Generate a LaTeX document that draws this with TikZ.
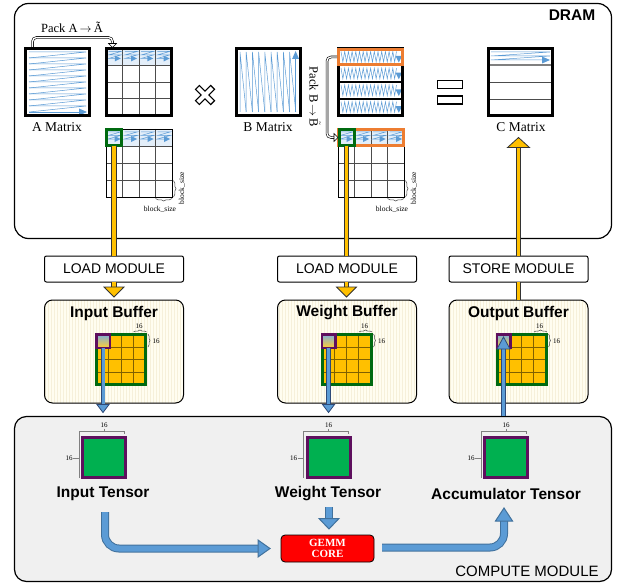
\documentclass[tikz,border=0pt]{standalone}
\usepackage{fontspec}
\setmainfont{Liberation Serif}
\newfontfamily\sansf{Liberation Sans}
\usetikzlibrary{arrows.meta,decorations.pathreplacing,calc,patterns}
\definecolor{zigc}{HTML}{5B9BD5}
\definecolor{paleblue}{HTML}{E3EEF9}
\definecolor{ycol}{HTML}{FFC000}
\definecolor{gbord}{HTML}{006A10}
\definecolor{orng}{HTML}{ED7D31}
\definecolor{purp}{HTML}{5E0F5E}
\definecolor{tgreen}{HTML}{00B050}
\definecolor{gridl}{HTML}{7F6000}
\definecolor{bfill}{HTML}{5B9BD5}
\definecolor{bdark}{HTML}{41719C}
\definecolor{bdk2}{HTML}{2E4A78}
\definecolor{cream}{HTML}{FFFDF0}
\definecolor{stripe}{HTML}{F6F0DA}
\definecolor{cmpfill}{HTML}{F0F0F0}
\newcommand{\cellpat}[4]{%
  \draw[zig] ({#1+2},{#2+3}) -- ({#1+#3-2},{#2+3}) -- ({#1+2},{#2+6.5}) -- ({#1+#3-2},{#2+6.5}) -- ({#1+2},{#2+10}) -- ({#1+#3-7},{#2+10});
  \fill[zigc] ({#1+#3-8},{#2+7}) -- ({#1+#3-2},{#2+10}) -- ({#1+#3-8},{#2+13}) -- cycle;}
\begin{document}
\begin{tikzpicture}[x=1pt,y=-1pt,
  every node/.style={inner sep=0pt, outer sep=0pt},
  zig/.style={draw=zigc, line width=0.5pt},
  thickmat/.style={draw=black, line width=3pt, minimum width=64pt, minimum height=67pt},
  thinmat/.style={draw=black, line width=0.9pt, minimum width=66pt, minimum height=68pt},
  gridln/.style={draw=black!70, line width=0.8pt},
  mlabel/.style={font=\fontsize{13.5}{13.5}\selectfont},
  modbox/.style={draw=black, line width=1pt, rounded corners=2pt, fill=white, minimum width=139pt, minimum height=26pt, font=\sansf\fontsize{14}{14}\selectfont},
  bufbox/.style={fill=cream, minimum width=139pt, minimum height=103pt, rounded corners=8pt, postaction={pattern=vertical lines, pattern color=stripe}, postaction={draw=black, line width=1pt}},
  btitle/.style={font=\sansf\bfseries\fontsize{15.5}{15.5}\selectfont},
  grid16/.style={draw=gbord, line width=3pt, fill=ycol, minimum width=49pt, minimum height=50pt},
  purpsq/.style={draw=purp, line width=2.5pt, minimum size=13.5pt, top color=zigc!80, bottom color=ycol!80},
  tensor/.style={draw=purp, line width=3pt, fill=tgreen, minimum width=43pt, minimum height=40pt},
  dimln/.style={draw=gray, line width=0.7pt},
  dimtxt/.style={font=\fontsize{7}{7}\selectfont},
  bsz/.style={font=\fontsize{7.5}{7.5}\selectfont},
  brc/.style={draw=black!70, line width=0.5pt, decorate, decoration={brace, amplitude=2.5pt}},
  ylink/.style={draw=black!80, double=ycol, double distance=3.6pt, line width=0.8pt},
  yhead/.style={fill=ycol, draw=black!80, line width=0.8pt},
  bthin/.style={draw=bdk2, double=bfill, double distance=3pt, line width=0.8pt},
  bhead/.style={fill=bfill, draw=bdk2, line width=0.8pt},
  bbig/.style={draw=bdark, double=bfill, double distance=6pt, line width=1pt},
  bbhead/.style={fill=bfill, draw=bdark, line width=1pt},
  packln/.style={draw=black, double=white, double distance=1.3pt, line width=0.6pt, rounded corners=4pt},
]
\useasboundingbox (0,0) rectangle (618,583);
\fill[white] (0,0) rectangle (618,583);

% ---------------- DRAM ----------------
\node[draw, line width=1.2pt, rounded corners=14pt, minimum width=597pt, minimum height=235pt] (dram) at (313,121) {};
\node[font=\sansf\bfseries\fontsize{15.5}{15.5}\selectfont] (dramlab) at (572,15) {DRAM};

% A matrix
\foreach \i in {0,...,9}{\draw[zig] (29,{52+6*\i}) -- (86,{52+6*\i}) -- (29,{58+6*\i});}
\draw[zig] (29,112) -- (80,112);
\fill[zigc] (79,108.5) -- (87,112) -- (79,115.5) -- cycle;
\node[thickmat] (Amat) at (57.5,82) {};
\node[mlabel] (Alab) at (57,127) {A Matrix};

% A tilde
\fill[paleblue] (106.5,48.5) rectangle (171.5,65.25);
\foreach \k in {1,2,3}{
  \draw[gridln] ({106.5+16.25*\k},48.5) -- ({106.5+16.25*\k},115.5);
  \draw[gridln] (106.5,{48.5+16.75*\k}) -- (171.5,{48.5+16.75*\k});}
\foreach \k in {0,...,3}{\cellpat{106.5+16.25*\k}{48.5}{16.25}{16.75}}
\node[thickmat, minimum width=65pt] (Atil) at (139,82) {};

\node[font=\fontsize{12.5}{12.5}\selectfont] (packA) at (72,27) {Pack A\,$\rightarrow$\,Ã};
\draw[packln] ($(Amat.north west)+(7,-1.5)$) |- ($(Atil.north west)+(6,-11)$) -- ($(Atil.north west)+(6,-4)$);
\filldraw[fill=white, draw=black, line width=0.6pt] ($(Atil.north west)+(2,-5)$) -- ($(Atil.north west)+(10,-5)$) -- ($(Atil.north west)+(6,-1)$) -- cycle;

% tiled A
\fill[paleblue] (106,129) rectangle (172,146);
\foreach \k in {1,2,3}{
  \draw[gridln] ({106+16.5*\k},129) -- ({106+16.5*\k},197);
  \draw[gridln] (106,{129+17*\k}) -- (172,{129+17*\k});}
\foreach \k in {0,...,3}{\cellpat{106+16.5*\k}{129}{16.5}{17}}
\node[thinmat] (Atile) at (139,163) {};
\node[draw=gbord, line width=3pt, minimum width=15pt, minimum height=16pt] (Agreen) at (114,137.5) {};
\draw[brc] (173.5,180.5) -- (173.5,197);
\draw[brc] (172,198.5) -- (155.5,198.5);
\node[bsz, rotate=90] (Abs1) at (182,188) {block\_size};
\node[bsz] (Abs2) at (160,209) {block\_size};

% times sign
\draw[line width=6.5pt] (197,87) -- (213,103) (197,103) -- (213,87);
\draw[white, line width=4pt] (197.9,87.9) -- (212.1,102.1) (197.9,102.1) -- (212.1,87.9);

% B matrix
\foreach \j in {0,...,8}{\draw[zig] ({240+6.2*\j},112) -- ({240+6.2*\j},52) -- ({246.2+6.2*\j},112);}
\draw[zig] (295.6,112) -- (295.6,58);
\fill[zigc] (292.1,59) -- (295.6,51) -- (299.1,59) -- cycle;
\node[thickmat] (Bmat) at (268.5,82) {};
\node[mlabel] (Blab) at (268,127) {B Matrix};

% B tilde
\foreach \k in {0,...,3}{
  \pgfmathsetmacro{\yy}{48.5+16.75*\k}
  \draw[zig] (341,{\yy+3}) \foreach \m in {1,...,30}{ -- ({341+1.85*\m},{\yy+3+10.5*mod(\m,2)}) };
  \fill[zigc] (395.5,{\yy+7.5}) -- (402,{\yy+7.5}) -- (398.75,{\yy+14}) -- cycle;}
\foreach \k in {1,2,3}{\draw[line width=2pt] (338.5,{48.5+16.75*\k}) -- (402.5,{48.5+16.75*\k});}
\node[thickmat] (Btil) at (370.5,82) {};
\draw[orng, line width=3pt] (338.5,49.5) rectangle (402.5,64.5);

% tiled B
\fill[paleblue] (338,129) rectangle (404,146);
\foreach \k in {1,2,3}{
  \draw[gridln] ({338+16.5*\k},129) -- ({338+16.5*\k},197);
  \draw[gridln] (338,{129+17*\k}) -- (404,{129+17*\k});}
\foreach \k in {0,...,3}{\cellpat{338+16.5*\k}{129}{16.5}{17}}
\node[thinmat] (Btile) at (371,163) {};
\draw[orng, line width=3pt] (338.5,129.5) rectangle (403.5,145.5);
\node[draw=gbord, line width=3pt, minimum width=15pt, minimum height=16pt] (Bgreen) at (346.5,137.5) {};
\draw[brc] (405.5,180.5) -- (405.5,197);
\draw[brc] (404,198.5) -- (387.5,198.5);
\node[bsz, rotate=90] (Bbs1) at (414,188) {block\_size};
\node[bsz] (Bbs2) at (392,209) {block\_size};

\node[font=\fontsize{12.5}{12.5}\selectfont, rotate=-90] (packB) at (315,97) {Pack B\,$\rightarrow$\,$\tilde{\mbox{B}}$};
\draw[packln] (337,57) -- (327,57) -- (327,137.5) -- ($(Bgreen.west)+(-4,0)$);
\filldraw[fill=white, draw=black, line width=0.6pt] ($(Bgreen.west)+(-5,-4)$) -- ($(Bgreen.west)+(-5,4)$) -- ($(Bgreen.west)+(-1,0)$) -- cycle;

% equals sign
\draw[line width=1.3pt] (437.5,80.5) rectangle (462.5,88.5);
\draw[line width=1.3pt] (437.5,96) rectangle (462.5,104);

% C matrix
\draw[zig] (491,52) -- (550,52) -- (491,56) -- (550,56) -- (491,60) -- (543,60);
\fill[zigc] (542,56.5) -- (550,60) -- (542,63.5) -- cycle;
\draw[gray, line width=1.5pt] (488.5,65) -- (552.5,65);
\draw[gridln] (488.5,82) -- (552.5,82);
\draw[gridln] (488.5,99) -- (552.5,99);
\node[thickmat] (Cmat) at (520.5,82) {};
\node[mlabel] (Clab) at (521,127) {C Matrix};

% ---------------- modules ----------------
\node[modbox] (load1) at (114,269) {LOAD MODULE};
\node[modbox] (load2) at (347,269) {LOAD MODULE};
\node[modbox] (store) at (518.5,269) {STORE MODULE};

\node[bufbox] (ibuf) at (114,351.5) {};
\node[bufbox] (wbuf) at (347,351.5) {};
\node[bufbox] (obuf) at (518.5,351.5) {};
\node[btitle] (ibt) at (114,313) {Input Buffer};
\node[btitle] (wbt) at (347,313) {Weight Buffer};
\node[btitle] (obt) at (518.5,313) {Output Buffer};

% buffer grids
\foreach \g/\gx in {igrid/121, wgrid/346.5, ogrid/521.5}{
  \node[grid16] (\g) at (\gx,359.5) {};
  \foreach \k in {1,2,3}{
    \draw[gridl, line width=1pt] ({\gx-24.5+12.25*\k},336) -- ({\gx-24.5+12.25*\k},383);
    \draw[gridl, line width=1pt] ({\gx-23},{334.5+12.5*\k}) -- ({\gx+23},{334.5+12.5*\k});}
  \draw[brc, line width=0.5pt, decoration={brace, amplitude=2pt}] ({\gx+12.5},332) -- ({\gx+25.5},332);
  \node[dimtxt] at ({\gx+18},326) {16};
  \draw[brc, line width=0.5pt, decoration={brace, amplitude=2pt}] ({\gx+27},334) -- ({\gx+27},347);
  \node[dimtxt] at ({\gx+35},341.5) {16};
}
\node[purpsq] (ipurp) at (103,341) {};
\node[purpsq] (wpurp) at (328.5,341) {};
\node[purpsq] (opurp) at (503.5,341) {};

% ---------------- compute ----------------
\node[draw, line width=1.2pt, rounded corners=12pt, fill=cmpfill, minimum width=597pt, minimum height=165pt] (cmp) at (313,499) {};
\node[font=\sansf\fontsize{15}{15}\selectfont] (cmplab) at (527,571) {COMPUTE MODULE};

\foreach \t/\tx in {itens/104, wtens/328.5, atens/506}{
  \draw[dimln] ({\tx-25},478) -- ({\tx-25},431) -- ({\tx+20},431) -- ({\tx+20},434);
  \node[tensor] (\t) at (\tx,457.5) {};
  \draw[dimln] (\tx,428.5) -- (\tx,431);
  \node[dimtxt] at (\tx,425) {16};
  \draw[dimln] ({\tx-31},458) -- ({\tx-25},458);
  \node[dimtxt] at ({\tx-35},458) {16};
}
\node[btitle] (ilab) at (103,494) {Input Tensor};
\node[btitle] (wlab) at (328,494) {Weight Tensor};
\node[btitle] (alab) at (506,494) {Accumulator Tensor};

\node[draw=black, line width=0.8pt, fill=red, rounded corners=4pt, minimum width=93pt, minimum height=27pt, align=center, text=white, font=\bfseries\fontsize{11}{11}\selectfont] (gemm) at (327.5,548.5) {GEMM\\CORE};

% ---------------- connectors ----------------
% yellow DRAM <-> modules
\draw[ylink] (Agreen.south) -- (Agreen.south |- load1.north);
\draw[ylink] (load1.south -| Agreen) -- ++(0,5.5);
\filldraw[yhead] ($(load1.south -| Agreen)+(-10,5)$) -- ($(load1.south -| Agreen)+(10,5)$) -- ($(load1.south -| Agreen)+(0,15)$) -- cycle;

\draw[ylink] (Bgreen.south) -- (Bgreen.south |- load2.north);
\draw[ylink] (load2.south -| Bgreen) -- ++(0,5.5);
\filldraw[yhead] ($(load2.south -| Bgreen)+(-10,5)$) -- ($(load2.south -| Bgreen)+(10,5)$) -- ($(load2.south -| Bgreen)+(0,15)$) -- cycle;

\draw[ylink] (obuf.north) -- (store.south);
\draw[ylink] (store.north) -- ($(store.north |- Clab.south)+(0,16)$);
\filldraw[yhead] ($(store.north |- Clab.south)+(-11,16)$) -- ($(store.north |- Clab.south)+(11,16)$) -- ($(store.north |- Clab.south)+(0,6)$) -- cycle;

% blue buffer <-> compute
\draw[bthin] (ipurp.south) -- ($(ipurp.south |- ibuf.south)+(0,2)$);
\filldraw[bhead] ($(ipurp.south |- ibuf.south)+(-6,1.5)$) -- ($(ipurp.south |- ibuf.south)+(6,1.5)$) -- ($(ipurp.south |- ibuf.south)+(0,9.5)$) -- cycle;
\draw[bthin] (wpurp.south) -- ($(wpurp.south |- wbuf.south)+(0,2)$);
\filldraw[bhead] ($(wpurp.south |- wbuf.south)+(-6,1.5)$) -- ($(wpurp.south |- wbuf.south)+(6,1.5)$) -- ($(wpurp.south |- wbuf.south)+(0,9.5)$) -- cycle;
\draw[bthin] ($(opurp.south |- cmp.north)+(0,-1)$) -- ($(opurp.center)+(0,7.5)$);
\filldraw[bhead] ($(opurp.center)+(-6.5,8)$) -- ($(opurp.center)+(6.5,8)$) -- ($(opurp.center)+(0,-4)$) -- cycle;

% big blue arrows
\coordinate (s1) at (105,512);
\draw[bbig, rounded corners=14pt] (s1) |- ($(gemm.west)+(-21,0)$);
\filldraw[bbhead] ($(gemm.west)+(-23,-8.5)$) -- ($(gemm.west)+(-23,8.5)$) -- ($(gemm.west)+(-11,0)$) -- cycle;

\coordinate (s2) at (329,507);
\draw[bbig] (s2) -- (329,520);
\filldraw[bbhead] (319,518.5) -- (339,518.5) -- ($(gemm.north)+(1.5,-6)$) -- cycle;

\coordinate (s3) at ($(gemm.east)+(8,-1)$);
\draw[bbig, rounded corners=14pt] (s3) -| (504,519);
\filldraw[bbhead] (495.5,521) -- (512.5,521) -- (504,508) -- cycle;
\end{tikzpicture}
\end{document}
